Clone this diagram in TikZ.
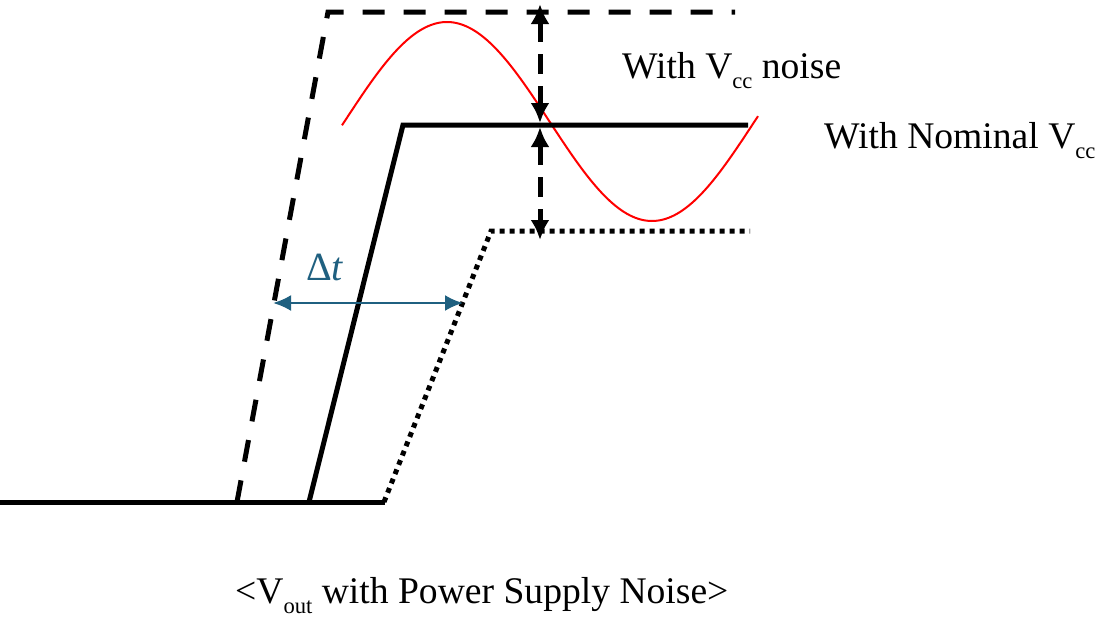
\documentclass[tikz,border=0pt]{standalone}
\usepackage{fontspec}
\setmainfont{Liberation Serif}
\usetikzlibrary{arrows.meta}
\definecolor{dtblue}{RGB}{31,96,128}
\newcommand\lowsub[1]{\raisebox{-0.27em}{\fontsize{22.6}{23}\selectfont #1}}
\begin{document}
\begin{tikzpicture}[x=1pt,y=-1pt,
  trace/.style={line width=5pt},
  dashtrace/.style={trace, dash pattern=on 22pt off 19pt},
  dottrace/.style={trace, dash pattern=on 5pt off 5pt},
  vspan/.style={line width=5pt, dash pattern=on 20pt off 12pt,
    {Latex[length=20pt,width=19pt]}-{Latex[length=20pt,width=19pt]}},
  dtarrow/.style={line width=2.5pt, draw=dtblue,
    {Latex[length=18pt,width=16pt]}-{Latex[length=18pt,width=16pt]}},
  lbl/.style={font=\fontsize{37.6}{45}\selectfont, inner sep=0pt, anchor=base west}]
\useasboundingbox (0,0) rectangle (1101,621);
% named points
\coordinate (b0) at (0,502);
\coordinate (b1) at (385,502);
\coordinate (dA) at (237,502);
\coordinate (dB) at (328,12);
\coordinate (dC) at (735,12);
\coordinate (sA) at (309,502);
\coordinate (sB) at (403,125);
\coordinate (sC) at (748,125);
\coordinate (pA) at (384,502);
\coordinate (pB) at (491,231);
\coordinate (pC) at (750,231);
\coordinate (vTop) at (540,4);
\coordinate (vMidU) at (540,123);
\coordinate (vMidL) at (540,127);
\coordinate (vBot) at (540,240);
\coordinate (dtL) at (273,303);
\coordinate (dtR) at (463,303);
% noise sine
\draw[red, line width=2pt] plot[domain=342:758, samples=150]
  (\x, {121.5 - 99.5*sin(0.87805*(\x-344.5))});
% traces
\draw[trace] (b0) -- (b1);
\draw[dashtrace] (dA) -- (dB) -- (dC);
\draw[trace] (sA) -- (sB) -- (sC);
\draw[dottrace] (pA) -- (pB) -- (pC);
% vertical spans
\draw[vspan] (vTop) -- (vMidU);
\draw[vspan] (vMidL) -- (vBot);
% delta t
\draw[dtarrow] (dtL) -- (dtR);
\node[lbl, font=\fontsize{40}{48}\selectfont, text=dtblue] (dt) at (306,280) {Δ\textit{t}};
% labels
\node[lbl] (noise) at (622,78) {With V\lowsub{cc} noise};
\node[lbl] (nom) at (824,148) {With Nominal V\lowsub{cc}};
\node[lbl] (cap) at (235,603) {<V\lowsub{out} with Power Supply Noise>};
\end{tikzpicture}
\end{document}
